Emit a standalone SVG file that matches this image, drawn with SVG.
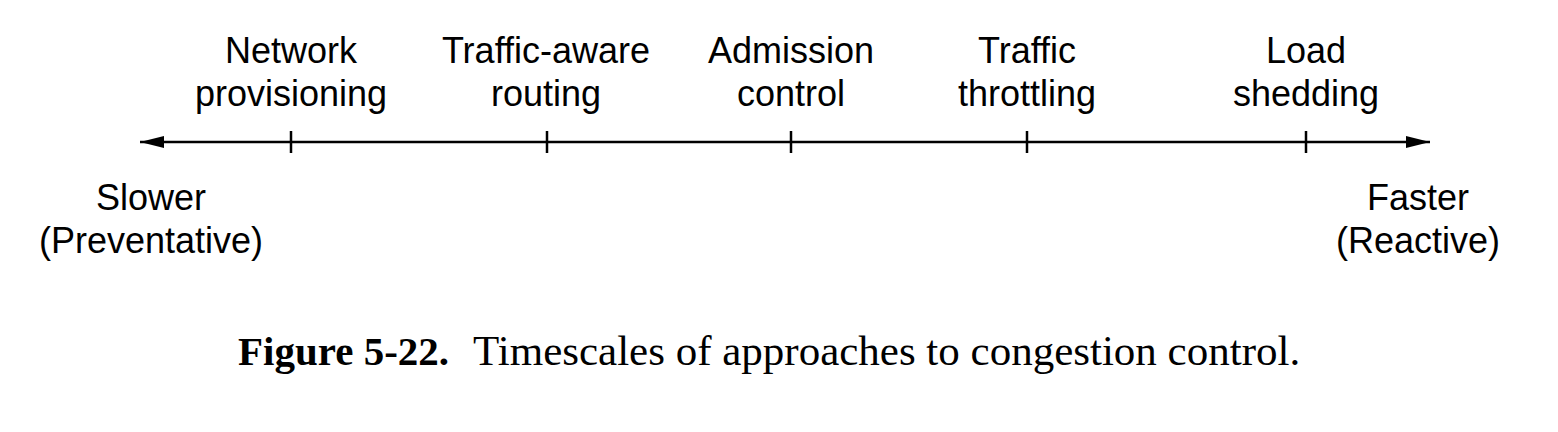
<svg xmlns="http://www.w3.org/2000/svg" width="1558" height="432" viewBox="0 0 1558 432">
<style>
.lbl{font-family:"Liberation Sans",Arial,sans-serif;font-size:36px;fill:#000;text-anchor:middle}
.cap{font-family:"Liberation Serif","Times New Roman",serif;font-size:43px;fill:#000}
.ax{stroke:#000;stroke-width:2.5;fill:none}
</style>
<defs>
<marker id="ah" viewBox="0 0 24 12" refX="24" refY="6" markerWidth="24" markerHeight="12" markerUnits="userSpaceOnUse" orient="auto-start-reverse">
<path d="M0,0 L24,6 L0,12 Z" fill="#000"/>
</marker>
</defs>
<rect width="1558" height="432" fill="#fff"/>
<g id="connectors">
<line class="ax" x1="140" y1="142" x2="1430" y2="142" marker-start="url(#ah)" marker-end="url(#ah)"/>
<line class="ax" x1="291" y1="131" x2="291" y2="153"/>
<line class="ax" x1="547" y1="131" x2="547" y2="153"/>
<line class="ax" x1="791" y1="131" x2="791" y2="153"/>
<line class="ax" x1="1027" y1="131" x2="1027" y2="153"/>
<line class="ax" x1="1306" y1="131" x2="1306" y2="153"/>
</g>
<g id="network-provisioning"><text class="lbl" x="291" y="63">Network</text><text class="lbl" x="291" y="106">provisioning</text></g>
<g id="traffic-aware-routing"><text class="lbl" x="546" y="63">Traffic-aware</text><text class="lbl" x="546" y="106">routing</text></g>
<g id="admission-control"><text class="lbl" x="791" y="63">Admission</text><text class="lbl" x="791" y="106">control</text></g>
<g id="traffic-throttling"><text class="lbl" x="1027" y="63">Traffic</text><text class="lbl" x="1027" y="106">throttling</text></g>
<g id="load-shedding"><text class="lbl" x="1306" y="63">Load</text><text class="lbl" x="1306" y="106">shedding</text></g>
<g id="slower"><text class="lbl" x="151" y="210">Slower</text><text class="lbl" x="151" y="253">(Preventative)</text></g>
<g id="faster"><text class="lbl" x="1418" y="210">Faster</text><text class="lbl" x="1418" y="253">(Reactive)</text></g>
<g id="caption"><text class="cap" y="365"><tspan x="238" font-weight="bold" font-size="41">Figure 5-22.</tspan><tspan x="473">Timescales of approaches to congestion control.</tspan></text></g>
</svg>
